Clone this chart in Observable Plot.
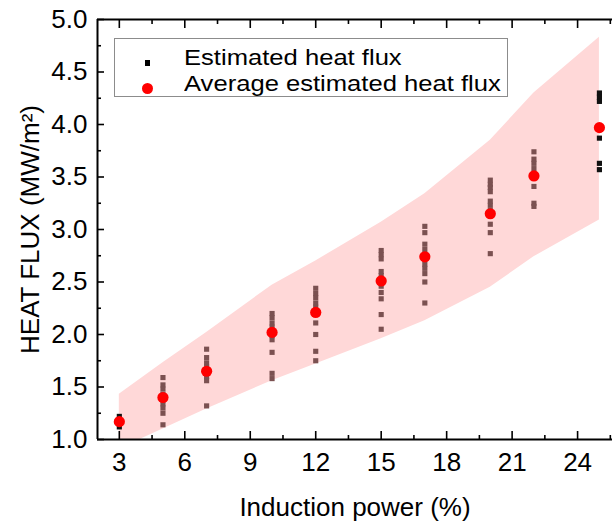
<!DOCTYPE html>
<html>
<head>
<meta charset="utf-8">
<script src="https://cdn.jsdelivr.net/npm/d3@7"></script>
<script src="https://cdn.jsdelivr.net/npm/@observablehq/plot@0.6"></script>
<style>
  body { margin: 0; background: #fff; }
  #wrap { position: relative; width: 612px; height: 525px; font-family: "Liberation Sans", Arial, sans-serif; }
  #legend { position: absolute; left: 114px; top: 38px; width: 394px; height: 59px; border: 1px solid #8c8c8c; box-sizing: border-box; background: #fff; }
  #legend .lab { position: absolute; left: 69px; font-size: 25.6px; line-height: 29px; white-space: nowrap; color: #000;
                 transform: scaleY(0.88); transform-origin: 0 0; }
  #legend .sq { position: absolute; left: 30px; width: 5px; height: 6px; background: #000; }
  #legend .dt { position: absolute; left: 27px; width: 11px; height: 11px; border-radius: 50%; background: #ff0000; }
</style>
</head>
<body>
<div id="wrap">
  <div id="chart"></div>
  <div id="legend">
    <div class="sq" style="top:21px"></div>
    <div class="dt" style="top:44px"></div>
    <div class="lab" style="top:6.3px">Estimated heat flux</div>
    <div class="lab" style="top:31.8px">Average estimated heat flux</div>
  </div>
</div>
<script>
// Induction power (%) for each measurement column
const powers = [3, 5, 7, 10, 12, 15, 17, 20, 22, 25];
// Average estimated heat flux (MW/m2)
const averages = [1.17, 1.40, 1.65, 2.02, 2.21, 2.51, 2.74, 3.15, 3.51, 3.97];
// Shaded band edges at each power
const bandUpper = [1.43, 1.73, 2.02, 2.47, 2.70, 3.07, 3.34, 3.85, 4.30, 4.83];
const bandLower = [0.91, 1.10, 1.29, 1.56, 1.72, 1.96, 2.13, 2.45, 2.74, 3.09];
// Individual estimated heat flux values per power
const est03 = [1.22, 1.18, 1.15, 1.12];
const est05 = [1.59, 1.52, 1.48, 1.43, 1.39, 1.34, 1.30, 1.25, 1.14];
const est07 = [1.86, 1.78, 1.73, 1.69, 1.65, 1.60, 1.56, 1.32];
const est10 = [2.20, 2.16, 2.11, 2.07, 2.02, 1.99, 1.95, 1.83, 1.63, 1.58];
const est12 = [2.44, 2.39, 2.35, 2.30, 2.26, 2.21, 2.11, 2.00, 1.84, 1.75];
const est15 = [2.80, 2.76, 2.72, 2.60, 2.56, 2.51, 2.46, 2.40, 2.34, 2.19, 2.05];
const est17 = [3.03, 2.97, 2.86, 2.81, 2.76, 2.72, 2.67, 2.63, 2.58, 2.50, 2.30];
const est20 = [3.47, 3.43, 3.40, 3.36, 3.27, 3.23, 3.18, 3.14, 3.05, 2.97, 2.77];
const est22 = [3.74, 3.67, 3.63, 3.58, 3.41, 3.25, 3.22];
const est25 = [4.30, 4.26, 4.22, 3.87, 3.63, 3.57];
const estimated = [est03, est05, est07, est10, est12, est15, est17, est20, est22, est25];
// Axis ticks
const xTicks = [3, 6, 9, 12, 15, 18, 21, 24];
const xMinor = [4.5, 7.5, 10.5, 13.5, 16.5, 19.5, 22.5, 25.5];
const yTicks = [1.0, 1.5, 2.0, 2.5, 3.0, 3.5, 4.0, 4.5, 5.0];
const yMinor = [1.25, 1.75, 2.25, 2.75, 3.25, 3.75, 4.25, 4.75];

const band = powers.map((p, i) => ({x: p, lo: bandLower[i], hi: bandUpper[i]}));
const avg = powers.map((p, i) => ({x: p, y: averages[i]}));
const est = powers.flatMap((p, i) => estimated[i].map(v => ({x: p, y: v})));
const xMin = d3.min(powers), xMax = d3.max(powers);

const chart = Plot.plot({
  width: 612,
  height: 525,
  marginLeft: 97,
  marginRight: 0,
  marginTop: 19,
  marginBottom: 86,
  style: {fontFamily: "Liberation Sans, Arial, sans-serif", fontSize: "26px", color: "#000", background: "#fff", overflow: "visible"},
  x: {domain: [2, 25.6]},
  y: {domain: [1, 5]},
  marks: [
    Plot.areaY(band, {x: "x", y1: "lo", y2: "hi", fill: "#ffd8d8", clip: true}),
    Plot.dot(est, {x: "x", y: "y", symbol: "square", r: 2.9, stroke: null,
      fill: d => (d.x === xMin || d.x === xMax) ? "#111111" : "#7b5151"}),
    Plot.dot(avg, {x: "x", y: "y", r: 5.6, fill: "#ff0000", stroke: null}),
    Plot.ruleX([2], {stroke: "#000", strokeWidth: 2}),
    Plot.ruleY([1, 5], {stroke: "#000", strokeWidth: 2}),
    Plot.axisX({ticks: xTicks, tickSize: -8, tickPadding: 21, strokeWidth: 1.6, tickFormat: d => String(d),
      label: "Induction power (%)", labelAnchor: "center", labelOffset: 76, labelArrow: "none"}),
    Plot.axisX({ticks: xMinor, tickSize: -4, strokeWidth: 1.6, tickFormat: () => "", label: null}),
    Plot.axisX({anchor: "top", ticks: xTicks, tickSize: -8, strokeWidth: 1.6, tickFormat: () => "", label: null}),
    Plot.axisX({anchor: "top", ticks: xMinor, tickSize: -4, strokeWidth: 1.6, tickFormat: () => "", label: null}),
    Plot.axisY({ticks: yTicks, tickSize: -7, tickPadding: 17, strokeWidth: 1.6, tickFormat: d3.format(".1f"),
      label: "HEAT FLUX (MW/m²)", labelAnchor: "center", labelOffset: 77, labelArrow: "none"}),
    Plot.axisY({ticks: yMinor, tickSize: -4, strokeWidth: 1.6, tickFormat: () => "", label: null})
  ]
});
document.getElementById("chart").appendChild(chart);
</script>
</body>
</html>
